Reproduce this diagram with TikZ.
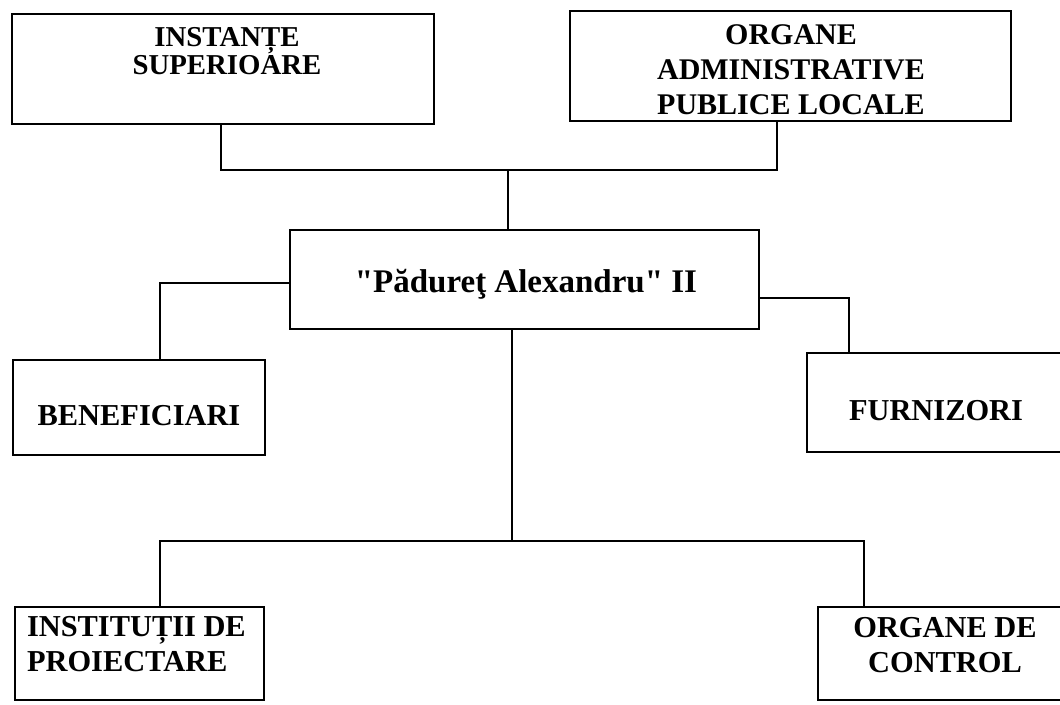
\documentclass[tikz,border=0pt]{standalone}
\usepackage{fontspec}
\setmainfont{Liberation Serif}
\newfontfamily\qfont{Liberation Serif}
\begin{document}
\begin{tikzpicture}[x=0.75pt,y=-0.75pt,
  box/.style={draw, line width=1.1pt, inner sep=0pt},
  conn/.style={line width=1.1pt},
  lbl/.style={inner sep=0pt, outer sep=0pt}]
\useasboundingbox (0,0) rectangle (1060,704);
\clip (0,0) rectangle (1060,704);
\fill[white] (0,0) rectangle (1060,704);
% boxes
\node[box, minimum width=316.5pt, minimum height=82.5pt] (inst) at (223,69) {};
\node[box, minimum width=330.75pt, minimum height=82.5pt] (org) at (790.5,66) {};
\node[box, minimum width=351.75pt, minimum height=74.25pt] (pad) at (524.5,279.5) {};
\node[box, minimum width=189pt, minimum height=71.25pt] (ben) at (139,407.5) {};
\node[box, minimum width=201pt, minimum height=74.25pt] (furn) at (941,402.5) {};
\node[box, minimum width=186.75pt, minimum height=69.75pt] (proj) at (139.5,653.5) {};
\node[box, minimum width=192.75pt, minimum height=69.75pt] (ctrl) at (946.5,653.5) {};
% texts
\node[lbl, anchor=north, align=center, font=\fontsize{21.6pt}{21.6pt}\selectfont\bfseries] (inst-t) at (227,27) {INSTANȚE\\SUPERIOARE};
\node[lbl, anchor=north, align=center, font=\fontsize{22.5pt}{26.25pt}\selectfont\bfseries] (org-t) at (791,25) {ORGANE\\ADMINISTRATIVE\\PUBLICE LOCALE};
\node[lbl, anchor=base, font=\fontsize{24.75pt}{28pt}\selectfont\qfont\bfseries] (pad-t) at (526,292) {"Pădureţ Alexandru" II};
\node[lbl, anchor=base, font=\fontsize{22.8pt}{26pt}\selectfont\bfseries] (ben-t) at (139,425) {BENEFICIARI};
\node[lbl, anchor=base, font=\fontsize{22.8pt}{26pt}\selectfont\bfseries] (furn-t) at (936,420) {FURNIZORI};
\node[lbl, anchor=north west, align=left, font=\fontsize{22.8pt}{26.25pt}\selectfont\bfseries] (proj-t) at (27,616) {INSTITUȚII DE\\PROIECTARE};
\node[lbl, anchor=north, align=center, font=\fontsize{22.8pt}{26.25pt}\selectfont\bfseries] (ctrl-t) at (945,617) {ORGANE DE\\CONTROL};
% connectors
\coordinate (jt) at (508,170);
\coordinate (jb) at (512,541);
\draw[conn] (221,0 |- inst.south) |- (jt) -| (777,0 |- org.south);
\draw[conn] (jt) -- (jt |- pad.north);
\draw[conn] (pad.west |- 0,283) -| (160,0 |- ben.north);
\draw[conn] (pad.east |- 0,298) -| (849,0 |- furn.north);
\draw[conn] (jb |- pad.south) -- (jb);
\draw[conn] (160,0 |- proj.north) |- (jb) -| (864,0 |- ctrl.north);
\end{tikzpicture}
\end{document}
